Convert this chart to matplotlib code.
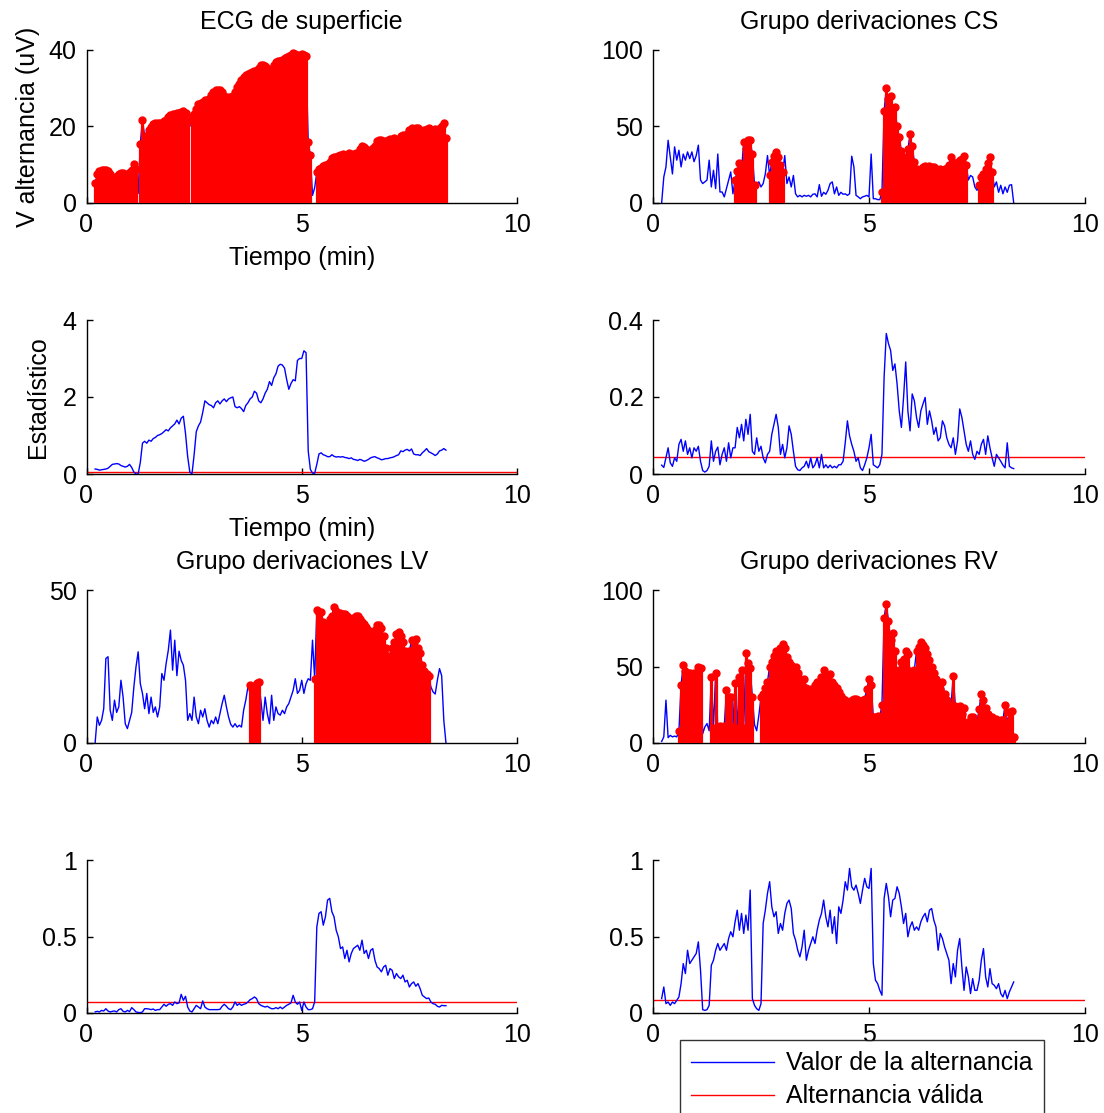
import numpy as np
import matplotlib
matplotlib.use("Agg")
import matplotlib.pyplot as plt
from matplotlib.lines import Line2D
from matplotlib.ticker import FuncFormatter

plt.rcParams['font.family'] = ['Liberation Sans', 'DejaVu Sans']
FS = 18

# time base (min), one estimate every 0.05 min
t = np.round(np.arange(0.20, 8.351, 0.05), 2)

# ---- ECG de superficie ----
ecg_alt = [
    5.1, 7.5, 8.3, 8.5, 8.6, 8.6, 8.4, 7.5, 6.5, 6.4,
    7.0, 7.6, 7.9, 7.8, 7.2, 7.6, 8.2, 8.6, 10.3, 9.0,
    2.5, 15.5, 21.8, 17.5, 17.2, 19.0, 19.8, 20.6, 20.8, 20.8,
    20.9, 21.0, 21.5, 21.8, 22.5, 23.0, 23.2, 23.3, 23.5, 23.6,
    23.8, 24.0, 23.5, 21.5, 20.0, 22.5, 23.3, 24.5, 25.8, 26.2,
    26.5, 26.8, 27.0, 27.2, 28.3, 29.0, 29.5, 29.6, 29.6, 29.0,
    28.0, 27.6, 27.6, 27.8, 28.0, 29.0, 30.2, 31.2, 32.2, 33.0,
    33.5, 33.8, 34.0, 34.3, 34.5, 34.9, 35.4, 36.0, 36.2, 35.8,
    35.2, 34.8, 34.6, 36.0, 36.8, 37.0, 37.2, 37.5, 37.8, 38.2,
    38.5, 38.8, 39.2, 39.0, 38.6, 38.8, 38.9, 38.7, 38.5, 16.0,
    12.5, 2.0, 4.0, 8.0, 8.8, 9.2, 9.6, 10.0, 10.3, 10.6,
    11.8, 12.0, 12.0, 12.3, 12.5, 12.8, 12.4, 12.6, 13.0, 12.5,
    12.8, 13.0, 12.8, 14.2, 14.8, 14.6, 14.2, 13.5, 13.8, 14.3,
    15.0, 16.2, 16.4, 16.5, 16.2, 16.0, 16.4, 16.8, 16.3, 17.0,
    16.5, 16.8, 17.5, 17.8, 17.4, 18.0, 19.2, 19.5, 19.3, 19.5,
    19.6, 19.0, 18.6, 19.2, 19.4, 19.7, 19.2, 19.0, 19.4, 19.0,
    19.5, 20.0, 20.8, 16.9]
ecg_valid = [(0.20, 1.15), (1.25, 2.35), (2.45, 5.20), (5.35, 8.35)]
ecg_stat = [
    0.13, 0.12, 0.10, 0.11, 0.12, 0.13, 0.15, 0.20, 0.25, 0.26,
    0.27, 0.26, 0.22, 0.20, 0.18, 0.20, 0.25, 0.17, 0.05, 0.00,
    0.00, 0.30, 0.80, 0.85, 0.80, 0.88, 0.85, 0.92, 0.95, 1.00,
    1.02, 1.05, 1.10, 1.15, 1.12, 1.20, 1.25, 1.30, 1.40, 1.30,
    1.45, 1.50, 1.05, 0.45, 0.05, 0.00, 0.50, 1.10, 1.25, 1.35,
    1.60, 1.90, 1.85, 1.80, 1.78, 1.72, 1.85, 1.90, 1.82, 1.90,
    1.95, 1.88, 1.95, 1.98, 2.00, 1.75, 1.72, 1.75, 1.70, 1.62,
    1.78, 1.85, 1.95, 2.00, 2.15, 2.10, 1.90, 1.85, 1.95, 2.10,
    2.20, 2.40, 2.30, 2.50, 2.60, 2.80, 2.85, 2.83, 2.75, 2.45,
    2.20, 2.35, 2.45, 2.42, 2.95, 3.00, 3.00, 3.20, 3.15, 0.60,
    0.12, 0.02, 0.02, 0.25, 0.52, 0.55, 0.50, 0.48, 0.45, 0.45,
    0.50, 0.46, 0.44, 0.45, 0.44, 0.45, 0.43, 0.42, 0.40, 0.42,
    0.38, 0.37, 0.35, 0.38, 0.36, 0.33, 0.35, 0.38, 0.42, 0.44,
    0.45, 0.42, 0.40, 0.37, 0.38, 0.40, 0.40, 0.42, 0.43, 0.45,
    0.48, 0.50, 0.60, 0.58, 0.62, 0.64, 0.60, 0.65, 0.52, 0.50,
    0.50, 0.48, 0.55, 0.60, 0.66, 0.58, 0.55, 0.52, 0.48, 0.52,
    0.60, 0.62, 0.66, 0.62]
ecg_thr = 0.06

# ---- Grupo derivaciones CS ----
cs_alt = [
    0, 17, 23.6, 41, 30, 19, 36.7, 28, 34.5, 23.6,
    32, 28, 33.4, 29, 33.4, 27, 31, 37.8, 15, 12.7,
    13.8, 15, 28, 10.5, 21.4, 9.4, 32, 7.2, 7.2, 4,
    9.4, 15, 20.3, 6, 15, 21, 26, 22, 40, 35,
    41.5, 41, 32, 12, 12.7, 13.8, 10.5, 12.7, 19, 31,
    18, 27, 31, 33.4, 30, 25, 20, 31, 12.7, 17,
    10.5, 18, 6, 4, 5, 4, 5, 4.4, 5, 4,
    5.7, 6, 4, 12, 4.4, 7, 5.7, 8.3, 12.7, 13.8,
    6, 10.5, 5, 7, 5.7, 6, 5, 6, 30.6, 23.6,
    5, 4, 2.8, 4, 4.4, 5, 4, 32, 2.8, 2.8,
    2.2, 2.2, 7, 60, 75, 68, 70, 62, 63, 50,
    43, 34, 29, 30, 35, 45, 37, 27, 22, 21,
    22, 23.5, 24, 23.5, 24, 23.5, 23.5, 22, 21.5, 22,
    21.5, 22, 23, 25, 30, 25, 26, 27, 28, 29,
    31, 25, 15, 18, 17, 10.5, 8.3, 12, 17, 19,
    22, 26, 30, 20, 10.5, 13.8, 7, 11.6, 6, 10.5,
    7, 11.6, 12, 0]
cs_valid = [(1.90, 2.35), (2.70, 3.00), (5.30, 7.25), (7.55, 7.85)]
cs_stat = [
    0.023, 0.017, 0.042, 0.068, 0.029, 0.020, 0.042, 0.033, 0.077, 0.090,
    0.059, 0.086, 0.051, 0.068, 0.042, 0.068, 0.059, 0.072, 0.033, 0.009,
    0.005, 0.009, 0.020, 0.086, 0.033, 0.059, 0.070, 0.024, 0.051, 0.068,
    0.033, 0.081, 0.042, 0.068, 0.068, 0.121, 0.094, 0.129, 0.086, 0.142,
    0.103, 0.155, 0.059, 0.051, 0.094, 0.059, 0.072, 0.042, 0.029, 0.051,
    0.059, 0.103, 0.129, 0.155, 0.121, 0.051, 0.077, 0.042, 0.068, 0.125,
    0.103, 0.059, 0.020, 0.011, 0.009, 0.016, 0.020, 0.033, 0.016, 0.042,
    0.016, 0.024, 0.042, 0.016, 0.051, 0.016, 0.024, 0.016, 0.023, 0.016,
    0.020, 0.016, 0.024, 0.024, 0.033, 0.081, 0.138, 0.099, 0.077, 0.059,
    0.033, 0.042, 0.016, 0.009, 0.024, 0.042, 0.068, 0.103, 0.024, 0.020,
    0.016, 0.024, 0.051, 0.252, 0.365, 0.339, 0.321, 0.269, 0.286, 0.234,
    0.164, 0.121, 0.199, 0.291, 0.164, 0.112, 0.208, 0.190, 0.147, 0.121,
    0.164, 0.182, 0.199, 0.129, 0.164, 0.138, 0.103, 0.121, 0.086, 0.094,
    0.138, 0.125, 0.094, 0.077, 0.068, 0.094, 0.051, 0.086, 0.169, 0.147,
    0.112, 0.077, 0.059, 0.086, 0.051, 0.038, 0.059, 0.051, 0.077, 0.090,
    0.051, 0.099, 0.068, 0.042, 0.020, 0.051, 0.042, 0.033, 0.023, 0.016,
    0.081, 0.020, 0.016, 0.014]
cs_thr = 0.045

# ---- Grupo derivaciones LV ----
lv_alt = [
    0, 8.5, 5.8, 7.4, 11.2, 27.6, 28.2, 10.7, 7.4, 14,
    10, 11.8, 20.5, 15, 6.3, 4.7, 7.4, 10, 18.3, 24.9,
    29.8, 19.4, 16.2, 11.2, 16.2, 9.6, 15, 10, 11.8, 8.5,
    11.8, 22.7, 20.5, 26, 30.3, 36.9, 23.8, 33.6, 22, 30,
    27, 25.4, 20.5, 7.4, 9.6, 7.4, 15, 8.5, 6.3, 10.7,
    8.5, 11.2, 7.4, 5.2, 7.4, 6.3, 8.5, 6.3, 9.6, 12.9,
    15.6, 11.8, 8.5, 6.1, 5.2, 6.3, 5.2, 5.8, 5.2, 10.7,
    14, 18.3, 18.8, 17.5, 18.5, 19.5, 19.8, 14, 7.4, 15,
    9.6, 6.3, 15.6, 7.4, 11.8, 9.6, 9.1, 10.7, 9.6, 11.8,
    12.9, 15, 17.2, 21, 16.2, 17.2, 20.5, 16.2, 19.4, 21,
    20.5, 33.6, 21, 43.4, 42.5, 42.8, 39.5, 37.5, 38.5, 40.5,
    41.5, 44.5, 43, 42, 42.4, 42, 42, 41.5, 41, 40.5,
    40.8, 41.5, 41.5, 40.5, 39.5, 39, 38, 37, 35.8, 36,
    37, 38.5, 38.5, 37.5, 35, 31, 28.5, 28.5, 31, 33,
    35.5, 36.4, 35, 33, 30, 28.2, 30, 33.5, 33, 34,
    31, 29.5, 25.5, 23.5, 22.5, 22, 18.3, 16.7, 16, 20.5,
    24.3, 22, 7.4, 0]
lv_valid = [(3.80, 4.00), (5.30, 7.95)]
lv_stat = [
    0.007, 0.011, 0.007, 0.017, 0.013, 0.028, 0.013, 0.007, 0.011, 0.013,
    0.007, 0.022, 0.028, 0.011, 0.007, 0.017, 0.009, 0.035, 0.022, 0.007,
    0.004, 0.002, 0.007, 0.028, 0.028, 0.026, 0.022, 0.026, 0.017, 0.022,
    0.022, 0.039, 0.057, 0.044, 0.057, 0.061, 0.050, 0.072, 0.061, 0.066,
    0.122, 0.083, 0.109, 0.039, 0.013, 0.007, 0.028, 0.050, 0.039, 0.028,
    0.079, 0.039, 0.028, 0.022, 0.022, 0.022, 0.022, 0.022, 0.024, 0.044,
    0.057, 0.044, 0.028, 0.022, 0.039, 0.072, 0.050, 0.061, 0.050, 0.057,
    0.061, 0.072, 0.087, 0.094, 0.105, 0.094, 0.061, 0.050, 0.044, 0.039,
    0.044, 0.035, 0.028, 0.028, 0.035, 0.028, 0.039, 0.028, 0.039, 0.050,
    0.057, 0.066, 0.116, 0.072, 0.057, 0.072, 0.017, 0.072, 0.039, 0.022,
    0.022, 0.028, 0.072, 0.563, 0.651, 0.662, 0.574, 0.629, 0.738, 0.749,
    0.662, 0.629, 0.541, 0.498, 0.421, 0.432, 0.356, 0.410, 0.334, 0.389,
    0.421, 0.432, 0.443, 0.410, 0.476, 0.389, 0.410, 0.356, 0.410, 0.421,
    0.345, 0.301, 0.290, 0.269, 0.301, 0.312, 0.247, 0.290, 0.279, 0.225,
    0.258, 0.236, 0.225, 0.247, 0.203, 0.214, 0.170, 0.192, 0.203, 0.175,
    0.192, 0.159, 0.116, 0.105, 0.094, 0.098, 0.072, 0.061, 0.057, 0.044,
    0.039, 0.050, 0.048, 0.048]
lv_thr = 0.07

# ---- Grupo derivaciones RV ----
rv_alt = [
    1, 4, 28, 3.5, 5, 4, 4.5, 4, 7.8, 38,
    51, 47, 45.5, 45.5, 45, 45.5, 45, 50, 49, 6,
    10.5, 12.7, 8, 43, 10, 46, 10, 11, 10.5, 11,
    34.5, 30, 30, 10.5, 39, 10, 43, 47.5, 10, 59,
    52, 49, 30, 12, 8, 18, 30, 32, 36, 40,
    50, 53, 57, 60, 58, 62, 65, 62, 56, 53,
    51, 48, 50, 46, 42, 38, 42, 36, 34, 35,
    34, 38, 40, 40, 43, 47.5, 44, 44, 45, 40,
    38, 36, 33.5, 31, 28.5, 28, 26.5, 27, 28, 28.5,
    29, 28, 27, 28, 29, 35, 42, 38, 17, 17,
    17.5, 17, 25, 82, 91, 80, 67, 72, 60, 45,
    48, 53, 55, 60, 58, 47, 45, 48, 60, 63,
    66, 64, 62, 58, 54, 50, 46, 42, 38, 35,
    40, 32, 28, 22, 25, 44, 24, 23, 24, 19,
    23, 11, 14, 17, 17, 13, 14, 22, 32, 28,
    23, 19, 14, 17, 12, 16, 12, 15, 15, 25,
    13, 20, 21, 4]
rv_valid = [(0.60, 1.10), (1.35, 2.30), (2.50, 8.35)]
rv_stat = [
    0.094, 0.170, 0.061, 0.072, 0.050, 0.072, 0.061, 0.083, 0.105, 0.192,
    0.323, 0.258, 0.410, 0.323, 0.345, 0.367, 0.389, 0.465, 0.279, 0.022,
    0.017, 0.022, 0.050, 0.312, 0.345, 0.410, 0.454, 0.410, 0.432, 0.454,
    0.410, 0.487, 0.531, 0.498, 0.596, 0.672, 0.541, 0.651, 0.520, 0.640,
    0.541, 0.803, 0.094, 0.050, 0.028, 0.017, 0.061, 0.585, 0.672, 0.782,
    0.858, 0.694, 0.629, 0.662, 0.520, 0.585, 0.541, 0.651, 0.716, 0.738,
    0.683, 0.520, 0.476, 0.410, 0.367, 0.432, 0.541, 0.345, 0.410, 0.454,
    0.498, 0.454, 0.541, 0.607, 0.651, 0.738, 0.629, 0.563, 0.672, 0.520,
    0.629, 0.454, 0.694, 0.651, 0.738, 0.858, 0.803, 0.945, 0.825, 0.803,
    0.836, 0.782, 0.716, 0.803, 0.880, 0.825, 0.814, 0.945, 0.323, 0.214,
    0.192, 0.148, 0.116, 0.749, 0.847, 0.760, 0.629, 0.738, 0.749, 0.825,
    0.782, 0.694, 0.585, 0.651, 0.498, 0.563, 0.596, 0.541, 0.563, 0.541,
    0.596, 0.629, 0.651, 0.596, 0.672, 0.683, 0.607, 0.563, 0.410, 0.520,
    0.487, 0.432, 0.389, 0.345, 0.192, 0.323, 0.236, 0.410, 0.487, 0.301,
    0.148, 0.301, 0.236, 0.127, 0.225, 0.148, 0.148, 0.214, 0.345, 0.421,
    0.236, 0.170, 0.290, 0.192, 0.181, 0.159, 0.192, 0.127, 0.105, 0.148,
    0.094, 0.138, 0.170, 0.203]
rv_thr = 0.083

x_ticks = [0, 5, 10]
titles = ["ECG de superficie", "Grupo derivaciones CS",
          "Grupo derivaciones LV", "Grupo derivaciones RV"]

W, H = 1104, 1113
fig = plt.figure(figsize=(W / 100, H / 100), dpi=100)

col_px = [(86.5, 517), (653, 1085)]
row_px = [(50, 203), (320, 474), (590, 743), (860, 1013)]


def make_ax(r, c):
    x0, x1 = col_px[c]
    y0, y1 = row_px[r]
    ax = fig.add_axes([x0 / W, 1 - y1 / H, (x1 - x0) / W, (y1 - y0) / H])
    ax.spines['top'].set_visible(False)
    ax.spines['right'].set_visible(False)
    for s in ('left', 'bottom'):
        ax.spines[s].set_linewidth(1.0)
    ax.tick_params(direction='in', length=4, width=1, labelsize=FS, pad=7)
    ax.set_xlim(0, 10)
    ax.set_xticks(x_ticks)
    ax.yaxis.set_major_formatter(FuncFormatter(lambda v, p: f"{v:g}"))
    return ax


def valid_mask(intervals):
    m = np.zeros(len(t), dtype=bool)
    for a, b in intervals:
        m |= (t >= a - 1e-6) & (t <= b + 1e-6)
    return m


def alt_panel(ax, vals, intervals, ymax, yticks, title):
    v = np.asarray(vals, dtype=float)
    ax.plot(t, v, color='blue', lw=1.0, zorder=2)
    m = valid_mask(intervals)
    ax.vlines(t[m], 0, v[m], color='red', lw=2.3, zorder=3)
    ax.plot(t[m], v[m], 'o', color='red', ms=5, mec='red', zorder=4,
            clip_on=False)
    ax.set_ylim(0, ymax)
    ax.set_yticks(yticks)
    ax.set_title(title, fontsize=FS, pad=15)


def stat_panel(ax, vals, thr, ymax, yticks):
    ax.plot(t, vals, color='blue', lw=1.0, zorder=3)
    ax.axhline(thr, color='red', lw=1.0, zorder=2)
    ax.set_ylim(0, ymax)
    ax.set_yticks(yticks)


a = make_ax(0, 0)
alt_panel(a, ecg_alt, ecg_valid, 40, [0, 20, 40], titles[0])
a.set_ylabel("V alternancia (uV)", fontsize=FS, labelpad=6)
a.set_xlabel("Tiempo (min)", fontsize=FS, labelpad=7)

a = make_ax(0, 1)
alt_panel(a, cs_alt, cs_valid, 100, [0, 50, 100], titles[1])

a = make_ax(1, 0)
stat_panel(a, ecg_stat, ecg_thr, 4, [0, 2, 4])
a.set_ylabel("Estadístico", fontsize=FS, labelpad=9)
a.set_xlabel("Tiempo (min)", fontsize=FS, labelpad=7)

a = make_ax(1, 1)
stat_panel(a, cs_stat, cs_thr, 0.4, [0, 0.2, 0.4])

a = make_ax(2, 0)
alt_panel(a, lv_alt, lv_valid, 50, [0, 50], titles[2])

a = make_ax(2, 1)
alt_panel(a, rv_alt, rv_valid, 100, [0, 50, 100], titles[3])

a = make_ax(3, 0)
stat_panel(a, lv_stat, lv_thr, 1, [0, 0.5, 1])

a = make_ax(3, 1)
stat_panel(a, rv_stat, rv_thr, 1, [0, 0.5, 1])

handles = [Line2D([], [], color='blue', lw=1.0),
           Line2D([], [], color='red', lw=1.0)]
leg = fig.legend(handles, ["Valor de la alternancia", "Alternancia válida"],
                 loc='upper left', bbox_to_anchor=(680 / W, 1 - 1040 / H),
                 fontsize=FS, frameon=True, fancybox=False,
                 handlelength=3.3, handletextpad=0.5, borderpad=0.45,
                 labelspacing=0.36, borderaxespad=0)
leg.get_frame().set_edgecolor('black')
leg.get_frame().set_linewidth(1.0)

fig.savefig("out.png", dpi=100)
